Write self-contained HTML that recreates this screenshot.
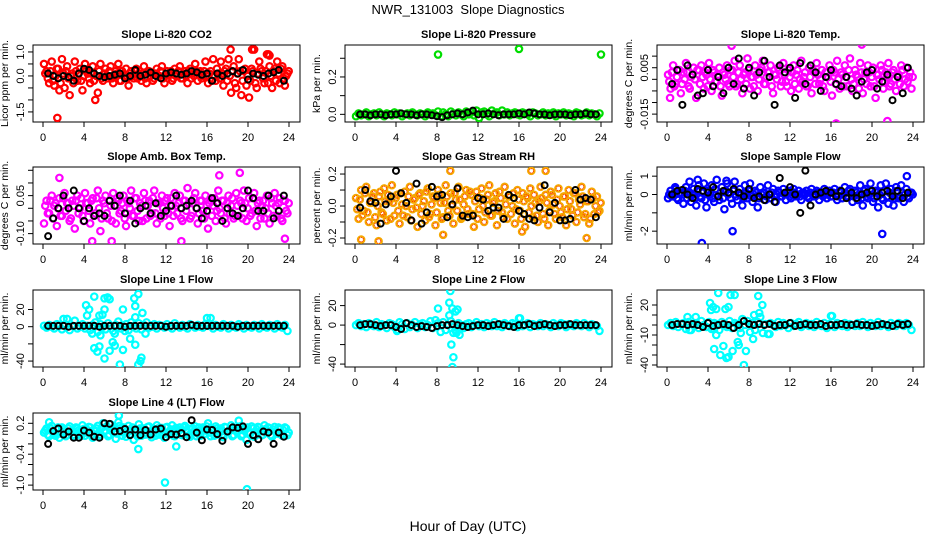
<!DOCTYPE html>
<html><head><meta charset="utf-8">
<style>
body{margin:0;background:#fff;}
svg{display:block;font-family:"Liberation Sans",sans-serif;}
</style></head>
<body>
<svg id="chart" width="936" height="540" viewBox="0 0 936 540" xmlns="http://www.w3.org/2000/svg">
<rect width="936" height="540" fill="#fff"/>
<text x="468" y="14" font-size="13" text-anchor="middle" xml:space="preserve">NWR_131003  Slope Diagnostics</text>
<text x="468" y="531" font-size="14" text-anchor="middle">Hour of Day (UTC)</text>
<g id="panels"></g>
</svg>
<script>
const hourTicks = [0,4,8,12,16,20,24];

const titles = ["Slope Li-820 CO2","Slope Li-820 Pressure","Slope Li-820 Temp.","Slope Amb. Box Temp.","Slope Gas Stream RH","Slope Sample Flow","Slope Line 1 Flow","Slope Line 2 Flow","Slope Line 3 Flow","Slope Line 4 (LT) Flow"];
const yLabels = ["Licor ppm per min.","kPa per min.","degrees C per min.","degrees C per min.","percent per min.","ml/min per min.","ml/min per min.","ml/min per min.","ml/min per min.","ml/min per min."];
const yLims = [[-1.92,1.29],[-0.041,0.371],[-0.0184,0.0148],[-0.141,0.163],[-0.2375,0.244],[-2.70,1.50],[-46.9,42.7],[-43,36],[-42,35],[-1.095,0.40]];
const yTicks = [[-1.5,-1.0,-0.5,0,0.5,1.0],[0,0.1,0.2,0.3],[-0.015,-0.01,-0.005,0,0.005,0.01],[-0.10,-0.05,0,0.05,0.10,0.15],[-0.2,-0.1,0,0.1,0.2],[-2,-1,0,1],[-40,-20,0,20],[-40,-20,0,20],[-40,-30,-20,-10,0,10,20],[-1.0,-0.8,-0.6,-0.4,-0.2,0,0.2]];
const yTickLabels = [["-1.5","","","0.0","","1.0"],["0.0","","0.2",""],["-0.015","","","","0.005",""],["-0.10","","","0.05","",""],["-0.2","","0.0","","0.2"],["-2","","0","1"],["-40","","0","20"],["-40","","0","20"],["-40","","","-10","","","20"],["-1.0","","","-0.4","","","0.2"]];
const colors = ["#ff0000","#00dd00","#ff00ff","#ff00ff","#f5a800","#0000ff","#00ffff","#00ffff","#00ffff","#00ffff"];

const main1 = [0.5,0.2,-0.3,0.6,-0.4,0.3,-0.6,0.7,-0.5,0.4,-0.8,0.1,0.6,-0.2,0.3,-0.6,0.5,0.1,-0.3,0.4,-1.0,-0.7,0.5,-0.2,0.3,-0.1,0.4,-0.3,0.2,0.5,-0.2,0.1,0.3,-0.4,0.2,-0.1,0.3,0.1,-0.2,0.4,-0.3,0.2,0.1,-0.1,0.3,0.0,0.4,-0.3,0.2,0.1,-0.2,0.3,0.0,0.4,-0.1,0.2,-0.3,0.3,0.1,0.5,-0.2,0.2,0.0,0.6,-0.3,0.2,0.7,-0.2,0.1,0.6,-0.4,0.3,0.7,-0.7,0.4,-0.5,0.7,-0.8,0.2,-0.4,-0.9,0.3,1.1,-0.5,0.6,0.2,-0.3,0.9,0.4,-0.5,0.3,0.6,-0.3,0.4,-0.4,0.1];
const main1b = [0.1,-0.1,0.2,-0.2,0.0,0.3,-0.3,0.1,0.2,-0.1,0.0,-0.3,0.2,0.1,-0.2,0.0,0.2,-0.1,0.1,-0.2,0.0,0.2,-0.1,0.1,0.0,0.2,-0.1,0.0,0.1,-0.2,0.2,0.0,-0.1,0.1,0.0,0.2,-0.1,0.0,0.1,-0.1,0.2,0.0,-0.2,0.1,0.0,0.2,-0.1,0.0,0.1,0.2,-0.1,0.0,0.2,-0.1,0.1,0.0,0.2,-0.1,0.0,0.2,0.1,-0.1,0.2,0.0,0.1,-0.2,0.0,0.3,-0.1,0.1,0.2,-0.2,0.0,0.2,-0.3,0.1,0.2,-0.2,0.3,0.0,-0.2,0.2,-0.3,0.1,0.3,-0.1,0.2,-0.3,0.0,0.2,-0.2,0.1,0.3,-0.1,0.0,0.2];
const main2 = [-0.01,0.005,-0.005,0.0,0.01,-0.01,0.0,0.005,-0.005,0.01,0.0,-0.01,0.005,0.0,-0.005,0.01,0.0,0.005,-0.01,0.0,0.005,-0.005,0.01,0.0,-0.005,0.005,0.0,-0.01,0.01,0.0,0.005,-0.005,0.015,-0.01,0.01,0.0,-0.01,0.015,0.005,-0.005,0.01,0.0,-0.01,0.015,0.0,0.01,-0.005,0.02,-0.02,0.01,0.015,0.0,-0.01,0.02,0.005,0.01,-0.005,0.02,0.0,0.01,-0.005,0.005,0.01,0.0,-0.005,0.01,0.005,0.0,-0.01,0.01,0.005,-0.005,0.0,0.01,-0.005,0.005,0.0,0.01,-0.01,0.005,0.0,0.01,-0.005,0.005,0.0,-0.01,0.01,0.005,-0.005,0.0,0.01,-0.005,0.005,0.0,-0.01,0.005];
const main3 = [0.002,-0.004,0.006,-0.002,0.004,-0.006,0.003,0.007,-0.003,0.001,0.005,-0.008,0.004,0.006,-0.004,0.002,0.007,-0.005,0.003,-0.001,0.005,-0.007,0.002,0.006,-0.003,0.004,0.008,-0.002,0.006,-0.006,0.003,0.009,-0.004,0.001,0.006,-0.005,0.004,0.008,-0.002,0.003,0.006,-0.006,0.002,0.005,-0.003,0.007,-0.001,0.004,-0.005,0.006,0.002,-0.004,0.008,0.001,-0.003,0.005,-0.006,0.003,0.007,-0.002,0.004,-0.005,0.001,0.006,-0.007,0.003,0.008,-0.004,0.002,0.006,-0.003,0.009,-0.005,0.004,0.001,0.007,-0.006,0.003,0.006,-0.003,0.005,-0.008,0.002,0.006,-0.004,0.003,0.007,-0.002,0.004,-0.005,0.002,0.006,-0.003,0.005,0.001,-0.004];
const main3b = [-0.001,0.003,-0.003,0.001,0.004,-0.002,0.0,0.003,-0.004,0.002,0.0,0.004,-0.002,0.001,0.003,-0.003,0.0,0.004,-0.001,0.002,-0.003,0.003,0.0,-0.002,0.004,0.001,-0.003,0.003,0.0,0.002,-0.002,0.004,0.001,-0.003,0.002,0.0,0.005,-0.002,0.001,0.003,-0.003,0.002,0.0,0.004,-0.001,0.002,-0.003,0.001,0.003,-0.002,0.004,0.0,-0.001,0.003,-0.003,0.001,0.004,-0.002,0.002,0.0,-0.003,0.003,0.001,-0.001,0.004,-0.002,0.0,0.003,-0.003,0.001,0.004,0.0,-0.002,0.002,-0.004,0.003,0.0,-0.002,0.003,0.001,-0.003,0.002,0.0,0.004,-0.001,0.001,-0.003,0.003,0.0,0.002,-0.002,0.004,0.0,-0.001,0.003,0.001];
const main4 = [-0.06,0.03,-0.02,0.05,0.01,-0.07,0.04,-0.03,0.06,0.02,-0.05,0.03,-0.08,0.05,0.0,-0.03,0.06,0.02,-0.06,0.04,-0.02,0.07,-0.09,0.03,0.05,-0.04,0.01,0.06,-0.06,0.03,-0.01,0.05,-0.07,0.02,0.07,-0.03,0.04,-0.05,0.01,0.06,-0.04,0.03,-0.02,0.07,-0.06,0.02,0.05,-0.03,0.04,-0.07,0.01,0.06,-0.02,0.05,-0.05,0.03,0.08,-0.04,0.02,0.06,-0.06,0.03,-0.01,0.05,-0.08,0.04,0.01,-0.05,0.07,-0.02,0.03,-0.06,0.05,0.01,-0.04,0.06,-0.03,0.02,0.07,-0.05,0.04,-0.02,0.06,-0.07,0.03,0.01,-0.04,0.05,-0.06,0.02,0.06,-0.03,0.04,-0.05,0.03,-0.02];
const main4b = [0.01,-0.02,0.03,-0.04,0.02,0.0,-0.03,0.04,-0.01,0.02,-0.04,0.01,0.03,-0.02,0.04,-0.05,0.02,-0.01,0.03,-0.03,0.04,0.0,-0.04,0.02,-0.02,0.03,-0.05,0.01,0.04,-0.02,0.02,-0.04,0.03,0.0,-0.03,0.04,-0.01,0.02,-0.05,0.03,0.01,-0.03,0.04,-0.02,0.02,-0.04,0.0,0.03,-0.02,0.04,-0.03,0.01,0.02,-0.04,0.03,-0.01,0.02,-0.03,0.04,0.0,-0.02,0.03,-0.04,0.01,0.02,-0.03,0.04,-0.01,0.0,0.03,-0.04,0.02,-0.02,0.04,-0.03,0.01,0.03,-0.04,0.02,0.0,-0.03,0.04,-0.01,0.02,-0.04,0.03,0.0,-0.02,0.04,-0.03,0.01,0.02,-0.04,0.03,-0.01,0.02];
const main5 = [0.05,-0.08,0.1,-0.03,0.12,-0.1,0.02,0.08,-0.12,0.06,-0.04,0.11,-0.09,0.03,0.13,-0.06,0.07,-0.11,0.01,0.09,-0.07,0.12,-0.02,0.05,-0.13,0.08,0.0,-0.09,0.11,-0.05,0.06,-0.12,0.1,0.02,-0.07,0.13,-0.03,0.08,-0.11,0.04,0.12,-0.08,0.01,0.1,-0.05,0.07,-0.13,0.09,-0.02,0.11,-0.1,0.04,0.13,-0.06,0.03,-0.12,0.09,-0.04,0.12,-0.08,0.06,0.0,-0.11,0.1,-0.03,0.08,-0.13,0.05,0.11,-0.07,0.02,-0.1,0.12,-0.05,0.07,-0.12,0.09,0.01,-0.08,0.11,-0.04,0.06,-0.12,0.1,-0.02,0.08,-0.1,0.04,0.12,-0.07,0.03,-0.11,0.09,-0.05,0.06,-0.03];
const main5b = [-0.02,0.04,-0.06,0.08,-0.04,0.02,0.06,-0.07,0.0,0.09,-0.05,0.03,0.07,-0.08,0.02,0.05,-0.03,0.08,-0.06,0.0,0.06,-0.09,0.04,-0.01,0.07,-0.05,0.03,0.09,-0.07,0.01,0.05,-0.04,0.07,-0.08,0.02,0.06,-0.06,0.0,0.08,-0.03,0.04,-0.07,0.06,-0.02,0.09,-0.05,0.03,-0.08,0.05,0.0,-0.04,0.07,-0.06,0.02,0.08,-0.03,0.05,-0.07,0.01,0.06,-0.05,0.08,-0.02,0.04,-0.08,0.03,0.06,-0.04,0.0,0.07,-0.06,0.03,0.05,-0.08,0.02,-0.03,0.07,-0.05,0.04,0.0,-0.07,0.06,-0.02,0.03,-0.06,0.08,-0.04,0.01,0.06,-0.05,0.03,-0.08,0.05,0.0,-0.04,0.02];
const main6 = [-0.2,0.2,-0.1,0.3,-0.3,0.1,-0.5,0.4,0.0,-0.4,0.3,-0.6,0.5,-0.2,0.6,-0.7,0.2,0.5,-0.4,0.8,-0.3,0.4,-0.8,0.6,0.1,-0.5,0.7,-0.3,0.3,-0.6,0.5,-0.2,0.6,-0.4,0.2,-0.7,0.4,0.1,-0.3,0.5,-0.2,0.3,-0.4,0.2,-0.1,0.3,-0.3,0.2,-0.2,0.3,-0.1,0.2,-0.3,0.1,0.2,-0.2,0.3,-0.1,0.2,-0.3,0.1,0.3,-0.2,0.2,-0.1,0.3,-0.3,0.2,-0.2,0.4,-0.1,0.3,-0.4,0.2,-0.3,0.5,-0.6,0.3,-0.2,0.6,-0.4,0.2,-0.7,0.5,-0.3,0.6,-0.5,0.3,-0.6,0.4,-0.2,0.5,-0.4,0.3,-0.2,0.1];
const main6b = [0.0,-0.1,0.1,-0.2,0.1,0.0,0.2,-0.2,0.1,0.0,-0.2,0.2,-0.1,0.1,-0.3,0.2,0.0,-0.2,0.3,-0.1,0.1,-0.2,0.2,0.0,-0.2,0.2,-0.1,0.1,0.0,-0.2,0.1,0.2,-0.1,0.0,0.1,-0.2,0.0,0.1,-0.1,0.0,0.1,-0.1,0.0,0.1,-0.1,0.0,0.1,-0.1,0.0,0.1,0.0,-0.1,0.1,0.0,-0.1,0.1,0.0,-0.1,0.1,0.0,-0.1,0.1,0.0,-0.1,0.1,0.0,-0.1,0.1,0.0,-0.1,0.2,0.0,-0.1,0.1,0.0,-0.2,0.2,-0.1,0.0,0.2,-0.2,0.1,0.0,-0.2,0.2,-0.1,0.1,0.0,-0.2,0.2,-0.1,0.1,0.0,-0.1,0.1,0.0];
const main7 = [1,-1,2,0,-2,3,1,-3,2,9,-4,1,7,-2,0,3,-2,1,-4,2,5,-6,3,0,-3,4,1,-5,2,6,-2,0,3,-4,5,1,-2,4,-3,2,5,-1,0,3,-2,2,1,-1,3,0,-2,4,1,-1,2,0,-2,3,1,-1,2,0,-1,3,1,10,-2,2,0,-1,3,1,-2,2,0,-1,3,1,-2,2,0,-1,2,1,-2,3,0,-1,2,1,-2,3,0,-1,2,-5];
const main8 = [0,2,-1,1,-2,2,0,-1,3,-2,1,0,-3,2,1,-2,-6,3,1,-4,2,-2,0,3,-3,1,2,-2,0,4,-3,5,2,-7,3,-5,0,4,-8,-6,2,0,-3,1,2,-2,0,3,-1,1,-2,2,0,-1,3,-1,1,-2,2,0,-1,2,1,-2,7,-1,0,2,-2,1,0,-1,2,-1,1,0,-2,2,0,-1,2,1,-2,1,0,-1,2,0,-1,2,0,-2,1,0,-1,-6];
const main9 = [0,2,-1,3,-2,1,2,-4,3,-5,1,2,-3,4,0,-2,3,-4,2,1,-5,3,0,-2,4,-3,2,1,-3,6,0,4,-7,2,-5,3,8,-8,1,-9,2,0,-2,3,-1,2,0,-3,2,-1,1,3,-2,0,2,-1,1,-2,3,0,-1,2,-3,1,9,-2,2,0,-1,2,-2,1,0,-1,2,-1,3,0,-2,2,0,-1,3,-1,1,0,-2,2,0,-1,2,1,-1,2,0,-5];
const main10 = [0.02,0.1,-0.05,0.15,0.0,0.08,-0.08,0.12,0.04,-0.03,0.14,0.05,-0.06,0.1,0.0,0.16,-0.04,0.07,0.12,-0.08,0.05,0.15,-0.02,0.2,0.06,-0.05,0.18,0.1,-0.1,0.22,0.03,0.12,-0.06,0.15,0.05,-0.12,0.08,0.18,-0.04,0.1,0.02,0.14,-0.07,0.09,0.16,-0.02,0.11,-0.08,0.13,0.04,0.16,-0.05,0.08,0.12,-0.03,0.15,0.02,-0.06,0.1,0.14,0.0,-0.04,0.12,0.06,0.2,-0.05,0.08,0.14,-0.02,0.1,-0.07,0.12,0.04,0.16,-0.03,0.06,0.25,-0.05,0.1,-0.12,0.02,0.14,-0.06,0.08,0.12,-0.03,0.16,0.02,0.1,-0.06,0.13,0.0,0.08,-0.04,0.12,-0.03];
const main10b = [0.06,-0.02,0.1,0.03,-0.04,0.12,0.0,0.08,-0.05,0.1,0.04,-0.02,0.12,0.06,-0.04,0.09,0.02,0.13,-0.03,0.07,0.1,-0.05,0.11,0.04,0.14,-0.02,0.08,0.12,0.0,0.15,-0.04,0.09,0.06,-0.02,0.12,0.03,-0.05,0.1,0.06,-0.02,0.13,0.01,0.08,-0.04,0.1,0.06,-0.02,0.12,0.02,0.08,-0.04,0.11,0.05,-0.02,0.12,0.07,-0.03,0.1,0.04,-0.05,0.12,0.06,-0.01,0.14,0.02,0.08,-0.04,0.1,0.05,-0.02,0.13,0.03,0.08,-0.05,0.11,0.04,0.14,-0.02,0.07,0.12,0.0,0.1,-0.04,0.13,0.05,-0.02,0.09,0.12,-0.03,0.08,0.04,0.12,-0.02,0.06,0.1,0.02];

const extraX = [[1.4,18.3,20.4,22,22.1],[8.1,16,24],[16.5,21.5,6.3,19,0.3],[19.2,1.6,17.2,4.8,23.6,6.7,13.5],[0.6,2.3,9.3,18.6,22.6,8.6,16.3,17.2],[3.4,6.4,21,23.4,0.8,5.8,3,2.2],[4.2,4.3,4.5,5,5.5,6,6.3,6.5,6,5.8,7.8,8.9,9.3,9,9,9.7,4.8,5,5.5,5.6,5.3,6,6.5,6.8,7,7.5,7.8,8.5,9,9.5,9.3,9.6,7,8,10,2,16],[8.1,9.2,9.3,9.5,9.8,10,9.2,9.4,9.6,9.5,10.2,9.8,4.2,9.9,16],[2,2.8,4.2,4.3,4.5,4.8,5,5.7,6,6.2,6.6,8.9,9.3,8.5,9,4.6,4.8,4.6,5.2,5.5,5.8,6,6.4,6.9,7,7.2,7.5,7.7,8.4,10,2.2,16],[11.9,19.9,7.4,0.6,9.3,13]];
const extraY = [[-1.75,1.1,1.1,0.9,0.85],[0.32,0.35,0.32],[-0.019,-0.018,0.0145,0.015,-0.008],[0.14,0.12,0.13,-0.13,-0.12,-0.13,-0.13],[-0.21,-0.22,0.22,0.22,-0.2,-0.18,-0.16,0.22],[-2.65,-2.0,-2.15,1.0,0.4,0.75,0.8,0.7],[25,13,20,35,13,33,34,32,20,14,20,33,38,11,24,16,-8,-25,-23,-10,-29,-37,-28,-18,-22,-44,-27,-14,-21,-40,-44,-36,-8,-5,-8,9,10],[17,23,35,17,14,16,10,-20,-33,-43,-10,-5,-5,-8,7],[8,8,22,15,18,16,32,16,18,30,30,29,20,10,12,-4,-10,-24,-30,-21,-33,-32,-26,-17,-20,-8,-40,-26,-14,-9,-5,9],[-0.95,-1.08,0.35,0.22,-0.3,-0.25]];

const black1 = [0.1,0.0,-0.1,0.0,-0.05,-0.2,0.1,0.3,0.25,0.1,0.0,-0.05,0.0,0.05,0.1,-0.1,0.0,0.25,0.0,0.05,0.15,0.0,-0.1,0.1,0.15,0.1,0.05,0.1,0.2,0.15,0.05,0.1,-0.2,0.1,0.0,0.1,0.2,0.1,0.25,-0.15,0.1,0.05,0.0,0.1,0.15,0.25,-0.2];
const black2 = [0.0,0.0,-0.005,0.0,0.0,-0.005,0.0,0.0,0.005,0.0,0.0,-0.005,0.0,0.0,-0.005,-0.01,-0.015,-0.005,0.0,0.005,0.0,0.01,0.02,0.0,0.0,0.005,0.0,-0.005,0.0,0.0,0.0,0.005,0.0,0.01,0.005,0.0,0.0,-0.005,0.0,0.0,0.0,-0.005,0.0,0.0,0.005,0.0,0.0];
const black3 = [-0.002,0.004,-0.011,0.006,0.002,-0.007,-0.006,0.004,-0.003,0.001,-0.006,0.005,-0.002,0.009,-0.004,0.005,-0.007,0.003,0.008,0.001,-0.011,0.006,0.003,0.005,-0.008,0.007,-0.002,0.006,0.003,-0.005,0.001,0.004,-0.002,-0.003,0.001,-0.004,-0.007,-0.001,0.003,0.004,-0.004,-0.001,0.002,-0.009,0.001,-0.006,0.005];
const black4 = [-0.11,-0.04,0.0,0.05,0.0,0.07,0.0,-0.05,0.0,-0.03,-0.02,-0.03,0.03,0.01,0.05,-0.02,0.03,-0.06,0.0,0.01,-0.02,0.02,-0.03,-0.01,0.01,0.05,0.0,0.01,0.03,0.0,-0.04,-0.01,0.04,0.02,-0.05,0.0,-0.02,-0.03,0.0,0.07,0.04,-0.01,-0.01,0.05,-0.04,-0.01,0.05];
const black5 = [-0.01,0.1,0.03,0.02,-0.11,0.01,0.06,0.22,0.08,0.02,-0.09,0.14,-0.11,-0.04,0.12,0.06,0.07,-0.07,0.01,0.11,-0.06,-0.07,-0.06,0.05,0.04,-0.03,-0.01,-0.01,-0.08,0.07,0.05,-0.03,-0.05,-0.08,-0.09,-0.01,0.13,-0.04,0.02,-0.09,-0.09,-0.08,0.1,0.04,0.05,0.04,-0.07];
const black6 = [0.0,0.2,0.25,0.0,-0.2,0.3,0.2,0.1,0.4,-0.1,0.2,0.1,0.3,0.1,-0.1,0.3,-0.2,-0.1,-0.3,0.0,-0.4,0.9,0.1,0.4,0.0,-1.0,1.3,-0.6,0.0,0.1,0.2,0.1,-0.1,0.2,-0.2,0.1,-0.2,0.0,0.1,0.2,-0.1,0.1,0.2,-0.1,0.2,-0.2,0.1];
const black7 = [1,1,1,1,0,1,1,1,1,1,0,1,1,1,1,0,1,1,1,1,1,1,1,0,1,1,1,1,2,1,1,1,1,1,1,1,1,0,1,1,1,1,1,1,1,1,1];
const black8 = [0,1,1,0,-1,0,0,-2,-4,2,0,-2,-1,-2,-3,-1,0,0,1,0,-1,-2,-1,0,0,-1,0,1,0,-1,-2,0,0,1,-1,0,1,0,-1,0,0,1,0,0,0,0,0];
const black9 = [0,1,1,0,1,0,-2,2,-1,0,1,0,-3,0,4,1,0,1,0,1,-1,0,0,2,-1,0,1,0,0,1,-1,0,0,1,0,0,1,0,0,-1,0,1,0,-1,1,0,1];
const black10 = [-0.2,0.05,0.1,-0.02,0.04,-0.08,-0.08,0.06,0.02,-0.06,-0.08,0.2,0.19,0.04,0.05,0.09,-0.03,0.08,-0.03,0.07,-0.02,0.08,0.1,-0.07,-0.01,-0.02,0.01,-0.07,0.26,0.02,-0.13,0.08,0.07,-0.01,-0.14,0.04,0.12,0.11,0.14,-0.2,-0.03,-0.11,0.04,0.02,-0.2,0.02,-0.06];

const mains = [main1,main2,main3,main4,main5,main6,main7,main8,main9,main10];
const mainsB = [main1b,[],main3b,main4b,main5b,main6b,[],[],[],main10b];
const blacks = [black1,black2,black3,black4,black5,black6,black7,black8,black9,black10];

const NS = "http://www.w3.org/2000/svg";
const colL = [33,345,657], rowT = [45,167,290,413], W = 267, H = 77;
const g = document.getElementById('panels');
function mk(tag, attrs, parent){ const e=document.createElementNS(NS,tag); for(const k in attrs) e.setAttribute(k,attrs[k]); parent.appendChild(e); return e; }

for(let p=0;p<10;p++){
  const L = colL[p%3], T = rowT[Math.floor(p/3)], B = T+H, R = L+W;
  const [lo,hi] = yLims[p];
  const xs = h => L+10+h*(246/24);
  const ys = v => B-(v-lo)/(hi-lo)*H;
  const pg = mk('g',{},g);
  
  
  const t = mk('text',{x:L+W/2,y:T-7,'font-size':11,'font-weight':'bold','text-anchor':'middle'},pg);
  t.textContent = titles[p];
  
  
  const yl = mk('text',{transform:`translate(${L-25},${T+H/2}) rotate(-90)`,'font-size':10.5,'text-anchor':'middle'},pg);
  yl.textContent = yLabels[p];
  
  
  const box = mk('rect',{x:L,y:T,width:W,height:H,fill:'none',stroke:'#000','stroke-width':1},pg);
  
  
  hourTicks.forEach(h=>{
    const x = xs(h);
    mk('line',{x1:x,y1:B,x2:x,y2:B+5,stroke:'#000'},pg);
    const tl = mk('text',{x:x,y:B+19,'font-size':11,'text-anchor':'middle'},pg);
    tl.textContent = h;
    
    
  });
  yTicks[p].forEach((v,i)=>{
    const y = ys(v);
    mk('line',{x1:L,y1:y,x2:L-5,y2:y,stroke:'#000'},pg);
    if(yTickLabels[p][i]){
      const yt = mk('text',{transform:`translate(${L-9},${y}) rotate(-90)`,'font-size':11,'text-anchor':'middle'},pg);
      yt.textContent = yTickLabels[p][i];
      
      
    }
  });
  const clipId = 'c'+p;
  const cp = mk('clipPath',{id:clipId},pg); mk('rect',{x:L,y:T,width:W,height:H},cp);
  const dg = mk('g',{'clip-path':`url(#${clipId})`},pg);
  const col = colors[p];
  const drawRing = (h,v,name)=>{
    const c = mk('circle',{cx:xs(h),cy:ys(v),r:3.2,fill:'none',stroke:col,'stroke-width':2.2},dg);
    
    
    if(p===4) mk('circle',{cx:xs(h),cy:ys(v),r:2.2,fill:'none',stroke:'#ff2000','stroke-width':0.9,'stroke-dasharray':'1 1'},dg);
  };
  const m = mains[p];
  m.forEach((v,i)=> drawRing(i*24/m.length+0.1, v, 'data-point'));
  const mb = mainsB[p];
  mb.forEach((v,i)=> drawRing(i*24/mb.length+0.22, v, 'data-point'));
  extraX[p].forEach((h,i)=> drawRing(h, extraY[p][i], 'outlier-point'));
  const b = blacks[p];
  b.forEach((v,i)=>{
    const c = mk('circle',{cx:xs(0.5+i*0.5),cy:ys(v),r:3,fill:'none',stroke:'#000','stroke-width':2},dg);
    
    
  });
}
</script>
</body></html>
